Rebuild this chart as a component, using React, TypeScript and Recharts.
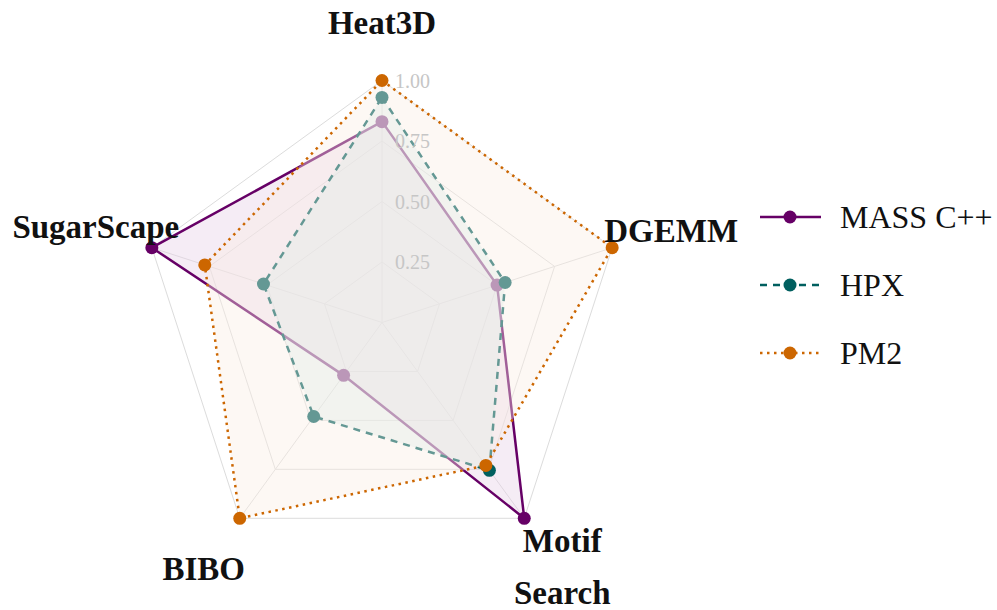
import { PolarAngleAxis, PolarGrid, PolarRadiusAxis, Radar, RadarChart } from 'recharts';

const axes = ['Heat3D', 'DGEMM', 'Motif Search', 'BIBO', 'SugarScape'];
const massCpp = [0.83, 0.5, 1.0, 0.27, 1.0];
const hpx = [0.93, 0.535, 0.755, 0.48, 0.515];
const pm2 = [1.0, 1.0, 0.73, 1.0, 0.77];
const radiusTicks = [0.25, 0.5, 0.75, 1.0];

const SERIES = [
  { key: 'mass', name: 'MASS C++', color: '#660066', fill: '#e6cfe6', dash: undefined },
  { key: 'hpx', name: 'HPX', color: '#005f5f', fill: '#d2ebeb', dash: '7 6' },
  { key: 'pm2', name: 'PM2', color: '#cc6600', fill: '#faeee4', dash: '2.5 4.5' }
];

const data = axes.map((axis, i) => ({ axis, mass: massCpp[i], hpx: hpx[i], pm2: pm2[i] }));

const CX = 382;
const CY = 322.5;
const R = 242;
const SERIF = '"Liberation Serif", "Times New Roman", serif';

// where each category label sits relative to its spoke end
const labelOffsets: Record<string, [number, number]> = {
  Heat3D: [0, -58],
  DGEMM: [59, -17],
  'Motif Search': [38, 23],
  BIBO: [-36, 51],
  SugarScape: [-56, -21]
};

function AngleTick({ payload }: any) {
  const a = (payload.coordinate * Math.PI) / 180;
  const vx = CX + R * Math.cos(a);
  const vy = CY - R * Math.sin(a);
  const [dx, dy] = labelOffsets[payload.value] ?? [0, 0];
  const words = payload.value === 'Motif Search' ? ['Motif', 'Search'] : [payload.value];
  return (
    <text
      x={vx + dx}
      y={vy + dy}
      textAnchor="middle"
      dominantBaseline="central"
      fontFamily={SERIF}
      fontWeight="bold"
      fontSize={33}
      fill="#111"
    >
      {words.map((w: string, i: number) => (
        <tspan key={w} x={vx + dx} dy={i === 0 ? 0 : 52}>
          {w}
        </tspan>
      ))}
    </text>
  );
}

function RadiusTick({ x, y, payload }: any) {
  return (
    <text x={x + 13} y={y} dominantBaseline="central" fontFamily={SERIF} fontSize={20} fill="#c6c6c6">
      {Number(payload.value).toFixed(2)}
    </text>
  );
}

// polygon and its points in one group so later series' fills sit over earlier dots
function radarShape(color: string) {
  return (props: any) => {
    const pts = props.points || [];
    return (
      <g>
        <polygon
          points={pts.map((p: any) => `${p.x},${p.y}`).join(' ')}
          fill={props.fill}
          fillOpacity={props.fillOpacity}
          stroke={props.stroke}
          strokeWidth={props.strokeWidth}
          strokeDasharray={props.strokeDasharray}
        />
        {pts.map((p: any, i: number) => (
          <circle key={i} cx={p.x} cy={p.y} r={6.5} fill={color} />
        ))}
      </g>
    );
  };
}

function LegendBox() {
  return (
    <svg width={240} height={200} style={{ position: 'absolute', left: 755, top: 185 }}>
      {SERIES.map((s, i) => {
        const y = 32 + i * 68;
        return (
          <g key={s.key}>
            <line x1={5} x2={66} y1={y} y2={y} stroke={s.color} strokeWidth={2.5} strokeDasharray={s.dash} />
            <circle cx={35} cy={y} r={6.5} fill={s.color} />
            <text x={85} y={y} dominantBaseline="central" fontFamily={SERIF} fontSize={32} fill="#111">
              {s.name}
            </text>
          </g>
        );
      })}
    </svg>
  );
}

export default function App() {
  return (
    <div style={{ position: 'absolute', left: 0, top: 0, width: 997, height: 610, background: '#fff' }}>
      <RadarChart width={997} height={610} data={data} cx={CX} cy={CY} outerRadius={R} margin={{ top: 0, right: 0, bottom: 0, left: 0 }}>
        <PolarGrid gridType="polygon" stroke="#dcdcdc" strokeWidth={1} />
        <PolarRadiusAxis
          angle={90}
          domain={[0, 1]}
          ticks={radiusTicks as any}
          tick={<RadiusTick />}
          axisLine={false}
          tickLine={false}
        />
        <PolarAngleAxis dataKey="axis" tick={<AngleTick />} tickLine={false} axisLine={false} />
        {SERIES.map((s) => (
          <Radar
            key={s.key}
            name={s.name}
            dataKey={s.key}
            stroke={s.color}
            strokeWidth={2.5}
            strokeDasharray={s.dash}
            fill={s.fill}
            fillOpacity={0.4}
            dot={false}
            shape={radarShape(s.color)}
            isAnimationActive={false}
          />
        ))}
      </RadarChart>
      <LegendBox />
    </div>
  );
}
